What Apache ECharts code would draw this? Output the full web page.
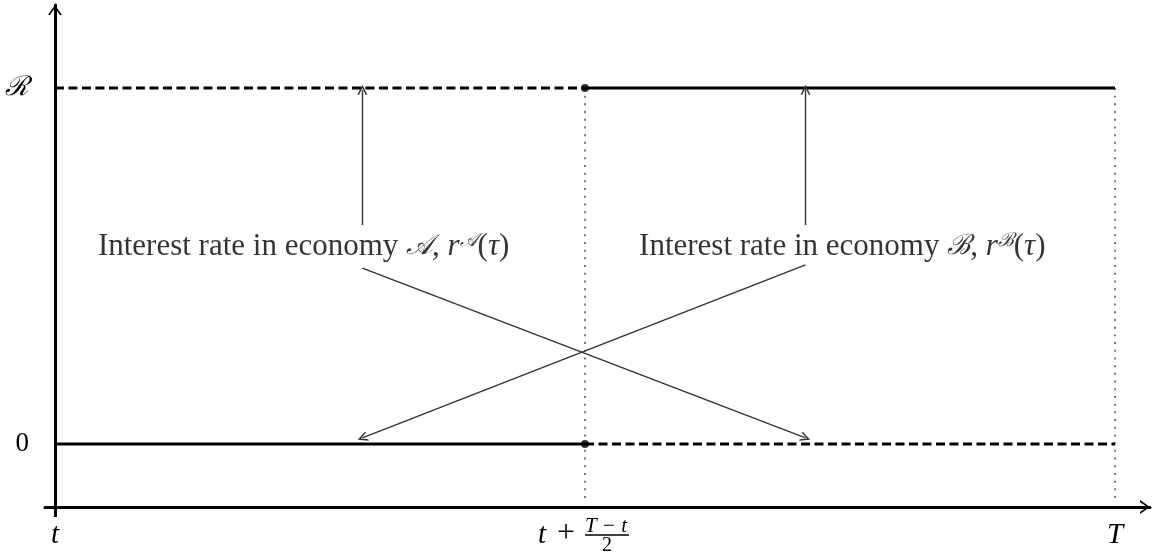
<!DOCTYPE html>
<html>
<head>
<meta charset="utf-8">
<script src="https://cdn.jsdelivr.net/npm/echarts@6/dist/echarts.min.js"></script>
<style>
html, body { margin: 0; padding: 0; background: #fff; }
#chart { width: 1155px; height: 556px; }
</style>
</head>
<body>
<div id="chart"></div>
<script>
// time axis: t, t+(T-t)/2, T  (t = 0, T = 1)
var halves = [[0, 0.5], [0.5, 1]];
var rateA = [1, 0];          // economy A: R then 0 (dashed)
var rateB = [0, 1];          // economy B: 0 then R (solid)
var switchPts = [[0.5, 1], [0.5, 0]];
var guideX = [0.5, 1];
var xTickLabels = ["t", "", "T"];
var yTickLabels = ["0", "ℛ"];
// arrows from the two captions, [from, to]
var arrowsA = [[[0.29, 0.615], [0.29, 0.995]], [[0.29, 0.494], [0.708, 0.017]]];
var arrowsB = [[[0.708, 0.615], [0.708, 0.995]], [[0.708, 0.503], [0.29, 0.017]]];

var xMin = -0.0094, xMax = 1.033, yMin = -0.177, yMax = 1.233, guideBottom = -0.157;

var serif = "'Liberation Serif', 'DejaVu Serif', serif";
var chevron = "path://M0,10 L7,0 L14,10 L12,10 L7,2.8 L2,10 Z";
var barb = "path://M0,10 L5,0 L10,10 L8.3,10 L5,3.2 L1.7,10 Z";

function segs(rates) {
    return halves.map(function (h, i) { return [[h[0], rates[i]], [h[1], rates[i]]]; });
}

var captionRich = {
    t: { fontFamily: serif, fontSize: 31, color: "#000" },
    m: { fontFamily: "'DejaVu Serif', serif", fontSize: 28, fontStyle: "italic", color: "#000" },
    i: { fontFamily: serif, fontSize: 31, fontStyle: "italic", color: "#000" },
    s: { fontFamily: "'DejaVu Serif', serif", fontSize: 19, fontStyle: "italic", color: "#000", verticalAlign: "top", padding: [0, 0, 13, 0] }
};

var series = [];
segs(rateA).forEach(function (d) {
    series.push({ type: "line", data: d, symbol: "none", lineStyle: { color: "#000", width: 3, type: [9, 4.5] }, z: 3 });
});
segs(rateB).forEach(function (d) {
    series.push({ type: "line", data: d, symbol: "none", lineStyle: { color: "#000", width: 3 }, z: 3 });
});
guideX.forEach(function (x) {
    series.push({ type: "line", data: [[x, rateB[1]], [x, guideBottom]], symbol: "none",
        lineStyle: { color: "#777", width: 2, type: [2, 5.7] }, z: 2 });
});
series.push({ type: "scatter", data: switchPts, symbolSize: 8, itemStyle: { color: "#000" }, z: 5 });
series.push({
    type: "lines", coordinateSystem: "cartesian2d", z: 4,
    data: arrowsA.concat(arrowsB).map(function (c) { return { coords: c }; }),
    symbol: ["none", barb], symbolSize: [9, 10],
    lineStyle: { color: "#333", width: 1.4, opacity: 1 }
});
// captions
series.push({
    type: "scatter", symbolSize: 0, z: 6,
    data: [
        { value: [0.0405, 0.553], name: "A" },
        { value: [0.551, 0.553], name: "B" }
    ],
    label: {
        show: true, position: "right", distance: 0,
        formatter: function (p) {
            var L = p.name === "A" ? "𝒜" : "ℬ";
            return "{t|Interest rate in economy }{m|" + L + "}{t|, }{i|r}{s|" + L + "}{t|(}{i|τ}{t|)}";
        },
        rich: captionRich
    }
});
// mid tick label t + (T-t)/2
series.push({
    type: "custom", z: 6, silent: true,
    data: [[halves[0][1], yMin]],
    renderItem: function (params, api) {
        var p = api.coord([api.value(0), api.value(1)]);
        var st = { fill: "#000", fontFamily: serif, textVerticalAlign: "middle" };
        return {
            type: "group",
            children: [
                { type: "text", style: Object.assign({}, st, { text: "t", x: p[0] - 43, y: p[1] + 28, fontSize: 29, fontStyle: "italic", textAlign: "center" }) },
                { type: "text", style: Object.assign({}, st, { text: "+", x: p[0] - 19, y: p[1] + 27, fontSize: 32, textAlign: "center" }) },
                { type: "text", style: Object.assign({}, st, { text: "T − t", x: p[0] + 21, y: p[1] + 19, fontSize: 21, fontStyle: "italic", textAlign: "center" }) },
                { type: "line", shape: { x1: p[0] + 0, y1: p[1] + 28, x2: p[0] + 44, y2: p[1] + 28 }, style: { stroke: "#000", lineWidth: 1.5 } },
                { type: "text", style: Object.assign({}, st, { text: "2", x: p[0] + 22, y: p[1] + 39, fontSize: 20, textAlign: "center" }) }
            ]
        };
    }
});

var chart = echarts.init(document.getElementById("chart"));
chart.setOption({
    animation: false,
    grid: { left: 45, right: 5, top: 5, bottom: 49, outerBoundsMode: "none" },
    xAxis: {
        type: "value", min: xMin, max: xMax,
        axisLine: { onZero: false, symbol: ["none", chevron], symbolSize: [14, 10], symbolOffset: [0, -5],
            lineStyle: { color: "#000", width: 3 } },
        axisTick: { show: true, customValues: [0], length: 10, lineStyle: { color: "#000", width: 3 } },
        axisLabel: {
            customValues: [0, 1], margin: 14, color: "#000",
            fontFamily: serif, fontSize: 29, fontStyle: "italic",
            formatter: function (v) { return xTickLabels[Math.round(v * 2)]; }
        },
        splitLine: { show: false }
    },
    yAxis: {
        type: "value", min: yMin, max: yMax,
        axisLine: { show: true, onZero: true, symbol: ["none", chevron], symbolSize: [14, 10], symbolOffset: [0, -5],
            lineStyle: { color: "#000", width: 3 } },
        axisTick: { show: false },
        axisLabel: {
            customValues: [0, 1], margin: 16, color: "#000",
            formatter: function (v) { return v === 1 ? "{s|" + yTickLabels[1] + "}" : "{n|" + yTickLabels[0] + "}"; },
            rich: {
                s: { fontFamily: "'DejaVu Serif', serif", fontSize: 27, fontStyle: "italic", color: "#000" },
                n: { fontFamily: serif, fontSize: 27, color: "#000" }
            }
        },
        splitLine: { show: false }
    },
    series: series
});
</script>
</body>
</html>
